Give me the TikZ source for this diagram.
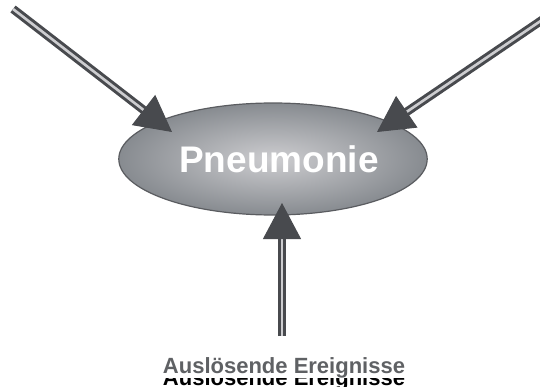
\documentclass[tikz,border=0pt]{standalone}
\usepackage{fontspec}
\setmainfont{Liberation Sans}
\usetikzlibrary{shapes.geometric,arrows.meta,calc}
\definecolor{arrowgray}{RGB}{72,74,78}
\definecolor{stripegray}{RGB}{205,205,208}
\definecolor{ellouter}{RGB}{135,139,144}
\definecolor{ellinner}{RGB}{205,205,208}
\definecolor{labelgray}{RGB}{95,97,100}
\tikzset{
  shaft/.style={draw=arrowgray, line width=3pt, double=stripegray, double distance=2.6pt},
  head/.style={-{Triangle[length=36pt,width=38pt]}, draw=arrowgray, fill=arrowgray, line width=1pt},
  disease/.style={ellipse, draw=arrowgray!90, line width=1.2pt, inner color=ellinner, outer color=ellouter,
    minimum width=292pt, minimum height=112pt, text=white, font=\bfseries\fontsize{37}{40}\selectfont},
  labeltext/.style={anchor=base, font=\bfseries\fontsize{22}{25}\selectfont},
}
\begin{document}
\begin{tikzpicture}[x=1pt,y=1pt]
\useasboundingbox (0,0) rectangle (540,386);
% centre
\node[disease] (pneu) at (273,227) {\hspace{12pt}Pneumonie};
% tips and free ends
\coordinate (lstart) at (13,377);
\coordinate (ltip) at (172,254);
\coordinate (rstart) at (545,368);
\coordinate (rtip) at (377,254);
\coordinate (bstart) at (282,50);
\coordinate (btip) at (282,183);
% arrows
\foreach \s/\t in {lstart/ltip, rstart/rtip, bstart/btip} {
  \draw[shaft] (\s) -- ($(\t)!30pt!(\s)$);
  \draw[head] ($(\t)!31pt!(\s)$) -- (\t);
}
% label (black copy partly hidden below)
\node[labeltext] (causeshadow) at (284,1) {Auslösende Ereignisse};
\node[labeltext, fill=white, inner sep=0pt, text=labelgray] (cause) at (284,13) {Auslösende Ereignisse};
\end{tikzpicture}
\end{document}
